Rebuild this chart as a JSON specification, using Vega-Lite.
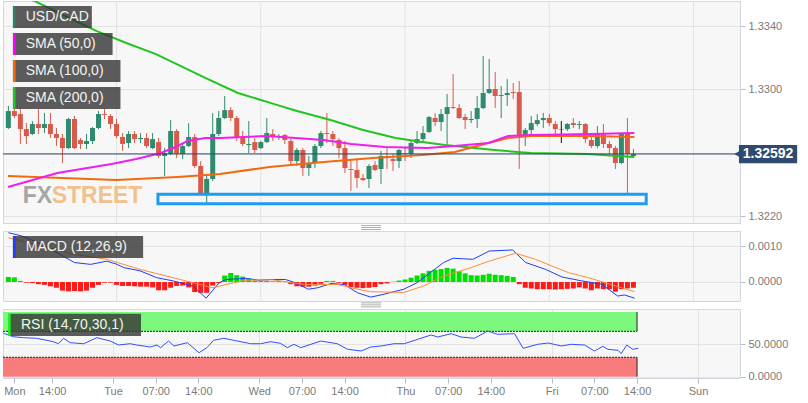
{
  "$schema": "https://vega.github.io/schema/vega-lite/v6.json",
  "padding": 0,
  "background": "white",
  "spacing": 8,
  "bounds": "flush",
  "config": {
    "font": "Liberation Sans",
    "view": {"stroke": "#d3d7e2", "fill": "#f7f7f7"},
    "axis": {"labelFont": "Liberation Sans", "labelFontSize": 11, "labelColor": "#7a7a7a", "tickColor": "#b8bcc8", "domainColor": "#d3d7e2", "gridColor": "#e3e3e3", "labelOverlap": false}
  },
  "datasets": {
    "days": [{"d":24},{"d":48},{"d":72},{"d":96},{"d":120}],
    "candles": [
      {"t":6,"o":1.32756,"h":1.32895,"l":1.32749,"c":1.32863},
      {"t":7,"o":1.32863,"h":1.32907,"l":1.32819,"c":1.32832},
      {"t":8,"o":1.32844,"h":1.32876,"l":1.32655,"c":1.32749},
      {"t":9,"o":1.32749,"h":1.32787,"l":1.32655,"c":1.32705},
      {"t":10,"o":1.32718,"h":1.32800,"l":1.32712,"c":1.32781},
      {"t":11,"o":1.32781,"h":1.32876,"l":1.32718,"c":1.32756},
      {"t":12,"o":1.32756,"h":1.32851,"l":1.32724,"c":1.32781},
      {"t":13,"o":1.32781,"h":1.32851,"l":1.32693,"c":1.32718},
      {"t":14,"o":1.32718,"h":1.32756,"l":1.32642,"c":1.32693},
      {"t":15,"o":1.32693,"h":1.32718,"l":1.32535,"c":1.32629},
      {"t":16,"o":1.32629,"h":1.32819,"l":1.32623,"c":1.32813},
      {"t":17,"o":1.32813,"h":1.32832,"l":1.32623,"c":1.32629},
      {"t":18,"o":1.32680,"h":1.32693,"l":1.32623,"c":1.32655},
      {"t":19,"o":1.32655,"h":1.32718,"l":1.32623,"c":1.32674},
      {"t":20,"o":1.32674,"h":1.32762,"l":1.32655,"c":1.32756},
      {"t":21,"o":1.32756,"h":1.32863,"l":1.32749,"c":1.32844},
      {"t":22,"o":1.32844,"h":1.32876,"l":1.32813,"c":1.32838},
      {"t":23,"o":1.32832,"h":1.32844,"l":1.32749,"c":1.32781},
      {"t":24,"o":1.32781,"h":1.32813,"l":1.32693,"c":1.32705},
      {"t":25,"o":1.32699,"h":1.32724,"l":1.32611,"c":1.32655},
      {"t":26,"o":1.32661,"h":1.32737,"l":1.32629,"c":1.32718},
      {"t":27,"o":1.32718,"h":1.32737,"l":1.32661,"c":1.32686},
      {"t":28,"o":1.32686,"h":1.32724,"l":1.32661,"c":1.32693},
      {"t":29,"o":1.32693,"h":1.32724,"l":1.32629,"c":1.32642},
      {"t":30,"o":1.32629,"h":1.32724,"l":1.32623,"c":1.32686},
      {"t":31,"o":1.32667,"h":1.32693,"l":1.32566,"c":1.32579},
      {"t":32,"o":1.32579,"h":1.32629,"l":1.32453,"c":1.32598},
      {"t":33,"o":1.32592,"h":1.32806,"l":1.32585,"c":1.32737},
      {"t":34,"o":1.32737,"h":1.32749,"l":1.32566,"c":1.32592},
      {"t":35,"o":1.32592,"h":1.32655,"l":1.32560,"c":1.32642},
      {"t":36,"o":1.32642,"h":1.32787,"l":1.32636,"c":1.32699},
      {"t":37,"o":1.32699,"h":1.32718,"l":1.32503,"c":1.32516},
      {"t":38,"o":1.32516,"h":1.32547,"l":1.32339,"c":1.32345},
      {"t":39,"o":1.32345,"h":1.32453,"l":1.32270,"c":1.32434},
      {"t":40,"o":1.32434,"h":1.32851,"l":1.32421,"c":1.32718},
      {"t":41,"o":1.32718,"h":1.32863,"l":1.32705,"c":1.32819},
      {"t":42,"o":1.32819,"h":1.32958,"l":1.32813,"c":1.32869},
      {"t":43,"o":1.32869,"h":1.32888,"l":1.32800,"c":1.32819},
      {"t":44,"o":1.32819,"h":1.32832,"l":1.32674,"c":1.32693},
      {"t":45,"o":1.32693,"h":1.32737,"l":1.32642,"c":1.32655},
      {"t":46,"o":1.32648,"h":1.32800,"l":1.32598,"c":1.32655},
      {"t":47,"o":1.32667,"h":1.32693,"l":1.32598,"c":1.32617},
      {"t":48,"o":1.32629,"h":1.32674,"l":1.32623,"c":1.32667},
      {"t":49,"o":1.32667,"h":1.32819,"l":1.32661,"c":1.32724},
      {"t":50,"o":1.32718,"h":1.32749,"l":1.32674,"c":1.32699},
      {"t":51,"o":1.32699,"h":1.32718,"l":1.32680,"c":1.32705},
      {"t":52,"o":1.32712,"h":1.32718,"l":1.32655,"c":1.32680},
      {"t":53,"o":1.32674,"h":1.32693,"l":1.32522,"c":1.32547},
      {"t":54,"o":1.32547,"h":1.32629,"l":1.32516,"c":1.32617},
      {"t":55,"o":1.32617,"h":1.32629,"l":1.32453,"c":1.32503},
      {"t":56,"o":1.32503,"h":1.32579,"l":1.32453,"c":1.32535},
      {"t":57,"o":1.32535,"h":1.32655,"l":1.32503,"c":1.32642},
      {"t":58,"o":1.32642,"h":1.32737,"l":1.32629,"c":1.32724},
      {"t":59,"o":1.32724,"h":1.32851,"l":1.32661,"c":1.32718},
      {"t":60,"o":1.32718,"h":1.32737,"l":1.32642,"c":1.32686},
      {"t":61,"o":1.32680,"h":1.32693,"l":1.32566,"c":1.32629},
      {"t":62,"o":1.32629,"h":1.32674,"l":1.32472,"c":1.32503},
      {"t":63,"o":1.32497,"h":1.32560,"l":1.32358,"c":1.32491},
      {"t":64,"o":1.32491,"h":1.32566,"l":1.32377,"c":1.32440},
      {"t":65,"o":1.32440,"h":1.32465,"l":1.32421,"c":1.32427},
      {"t":66,"o":1.32434,"h":1.32528,"l":1.32377,"c":1.32516},
      {"t":67,"o":1.32522,"h":1.32547,"l":1.32484,"c":1.32491},
      {"t":68,"o":1.32497,"h":1.32611,"l":1.32402,"c":1.32579},
      {"t":69,"o":1.32579,"h":1.32629,"l":1.32497,"c":1.32566},
      {"t":70,"o":1.32560,"h":1.32592,"l":1.32484,"c":1.32547},
      {"t":71,"o":1.32547,"h":1.32623,"l":1.32503,"c":1.32617},
      {"t":72,"o":1.32598,"h":1.32629,"l":1.32547,"c":1.32592},
      {"t":73,"o":1.32592,"h":1.32674,"l":1.32566,"c":1.32661},
      {"t":74,"o":1.32661,"h":1.32737,"l":1.32655,"c":1.32686},
      {"t":75,"o":1.32686,"h":1.32768,"l":1.32674,"c":1.32724},
      {"t":76,"o":1.32731,"h":1.32832,"l":1.32724,"c":1.32825},
      {"t":77,"o":1.32819,"h":1.32851,"l":1.32768,"c":1.32794},
      {"t":78,"o":1.32794,"h":1.32876,"l":1.32737,"c":1.32844},
      {"t":79,"o":1.32844,"h":1.32971,"l":1.32642,"c":1.32888},
      {"t":80,"o":1.32888,"h":1.33097,"l":1.32876,"c":1.32882},
      {"t":81,"o":1.32882,"h":1.32907,"l":1.32813,"c":1.32819},
      {"t":82,"o":1.32825,"h":1.32844,"l":1.32749,"c":1.32806},
      {"t":83,"o":1.32806,"h":1.32863,"l":1.32787,"c":1.32813},
      {"t":84,"o":1.32813,"h":1.32958,"l":1.32756,"c":1.32882},
      {"t":85,"o":1.32882,"h":1.33210,"l":1.32876,"c":1.32977},
      {"t":86,"o":1.32977,"h":1.33192,"l":1.32971,"c":1.33002},
      {"t":87,"o":1.33002,"h":1.33109,"l":1.32882,"c":1.32958},
      {"t":88,"o":1.32958,"h":1.33021,"l":1.32819,"c":1.32964},
      {"t":89,"o":1.32964,"h":1.33065,"l":1.32895,"c":1.32977},
      {"t":90,"o":1.32983,"h":1.33040,"l":1.32939,"c":1.32977},
      {"t":91,"o":1.32983,"h":1.33053,"l":1.32497,"c":1.32712},
      {"t":92,"o":1.32712,"h":1.32756,"l":1.32642,"c":1.32743},
      {"t":93,"o":1.32743,"h":1.32832,"l":1.32718,"c":1.32787},
      {"t":94,"o":1.32781,"h":1.32844,"l":1.32768,"c":1.32806},
      {"t":95,"o":1.32806,"h":1.32851,"l":1.32756,"c":1.32819},
      {"t":96,"o":1.32819,"h":1.32844,"l":1.32768,"c":1.32787},
      {"t":97,"o":1.32781,"h":1.32800,"l":1.32718,"c":1.32749},
      {"t":98,"o":1.32749,"h":1.32800,"l":1.32661,"c":1.32747},
      {"t":99,"o":1.32749,"h":1.32787,"l":1.32737,"c":1.32781},
      {"t":100,"o":1.32787,"h":1.32819,"l":1.32756,"c":1.32775},
      {"t":101,"o":1.32775,"h":1.32800,"l":1.32749,"c":1.32781},
      {"t":102,"o":1.32781,"h":1.32787,"l":1.32661,"c":1.32686},
      {"t":103,"o":1.32680,"h":1.32705,"l":1.32629,"c":1.32642},
      {"t":104,"o":1.32642,"h":1.32768,"l":1.32629,"c":1.32724},
      {"t":105,"o":1.32724,"h":1.32781,"l":1.32629,"c":1.32655},
      {"t":106,"o":1.32655,"h":1.32674,"l":1.32579,"c":1.32629},
      {"t":107,"o":1.32629,"h":1.32642,"l":1.32497,"c":1.32535},
      {"t":108,"o":1.32535,"h":1.32724,"l":1.32528,"c":1.32718},
      {"t":109,"o":1.32718,"h":1.32819,"l":1.32333,"c":1.32592},
      {"t":110,"o":1.32579,"h":1.32623,"l":1.32566,"c":1.32592}
    ],
    "sma": [
      {"s":"SMA200","t":5.94,"v":1.33615},{"s":"SMA200","t":10.37,"v":1.33558},{"s":"SMA200","t":15.79,"v":1.33457},{"s":"SMA200","t":20.71,"v":1.33368},{"s":"SMA200","t":25.63,"v":1.33293},{"s":"SMA200","t":30.56,"v":1.33223},{"s":"SMA200","t":38.76,"v":1.33072},{"s":"SMA200","t":44.18,"v":1.32977},{"s":"SMA200","t":50.25,"v":1.32907},{"s":"SMA200","t":54.03,"v":1.32863},{"s":"SMA200","t":59.61,"v":1.32806},{"s":"SMA200","t":65.02,"v":1.32743},{"s":"SMA200","t":70.44,"v":1.32693},{"s":"SMA200","t":74.87,"v":1.32667},{"s":"SMA200","t":78.65,"v":1.32648},{"s":"SMA200","t":86.85,"v":1.32617},{"s":"SMA200","t":92.93,"v":1.32598},{"s":"SMA200","t":102.28,"v":1.32592},{"s":"SMA200","t":110.16,"v":1.32573},
      {"s":"SMA100","t":5.94,"v":1.32453},{"s":"SMA100","t":14.97,"v":1.32440},{"s":"SMA100","t":23.99,"v":1.32427},{"s":"SMA100","t":34.17,"v":1.32446},{"s":"SMA100","t":41.23,"v":1.32465},{"s":"SMA100","t":49.43,"v":1.32510},{"s":"SMA100","t":58.46,"v":1.32541},{"s":"SMA100","t":66.67,"v":1.32566},{"s":"SMA100","t":74.87,"v":1.32585},{"s":"SMA100","t":80.29,"v":1.32604},{"s":"SMA100","t":85.87,"v":1.32661},{"s":"SMA100","t":89.15,"v":1.32693},{"s":"SMA100","t":92.92,"v":1.32705},{"s":"SMA100","t":103.10,"v":1.32705},{"s":"SMA100","t":110.16,"v":1.32699},
      {"s":"SMA50","t":5.94,"v":1.32383},{"s":"SMA50","t":14.15,"v":1.32472},{"s":"SMA50","t":23.17,"v":1.32528},{"s":"SMA50","t":27.28,"v":1.32560},{"s":"SMA50","t":31.38,"v":1.32598},{"s":"SMA50","t":33.84,"v":1.32636},{"s":"SMA50","t":35.81,"v":1.32674},{"s":"SMA50","t":38.76,"v":1.32693},{"s":"SMA50","t":41.23,"v":1.32693},{"s":"SMA50","t":49.10,"v":1.32705},{"s":"SMA50","t":58.46,"v":1.32680},{"s":"SMA50","t":63.05,"v":1.32655},{"s":"SMA50","t":68.64,"v":1.32636},{"s":"SMA50","t":75.69,"v":1.32629},{"s":"SMA50","t":80.29,"v":1.32642},{"s":"SMA50","t":85.87,"v":1.32661},{"s":"SMA50","t":89.15,"v":1.32705},{"s":"SMA50","t":92.92,"v":1.32712},{"s":"SMA50","t":103.10,"v":1.32718},{"s":"SMA50","t":110.16,"v":1.32724}
    ],
    "wm": [
      {"t":8.40,"p":1.32283,"txt":"FX"},
      {"t":13.2,"p":1.32283,"txt":"STREET"}
    ],
    "zone": [{"x1":30.89,"x2":112.13,"y1":1.32337,"y2":1.32278}],
    "mainLeg": [
      {"x1":6.76,"xb":7.2,"x2":19.89,"y1":1.33526,"y2":1.33387,"tx":8.89,"ty":1.33456,"label":"USD/CAD"},
      {"x1":6.76,"xb":7.2,"x2":23.34,"y1":1.33356,"y2":1.33217,"tx":8.89,"ty":1.33286,"label":"SMA (50,0)"},
      {"x1":6.76,"xb":7.2,"x2":24.65,"y1":1.33185,"y2":1.33046,"tx":8.89,"ty":1.33116,"label":"SMA (100,0)"},
      {"x1":6.76,"xb":7.2,"x2":24.65,"y1":1.33015,"y2":1.32876,"tx":8.89,"ty":1.32945,"label":"SMA (200,0)"}
    ],
    "price": [{"p":1.32592,"x1":127.56,"x2":137.24,"y1":1.32648,"y2":1.32533,"tx":132.4,"ta":127.3,"txt":"1.32592"}],
    "hist": [
      {"t":6,"h":0.00014},{"t":7,"h":0.00013},{"t":8,"h":0.00003},{"t":9,"h":-0.00002},{"t":10,"h":-0.00003},{"t":11,"h":-0.00006},{"t":12,"h":-0.00008},{"t":13,"h":-0.00012},{"t":14,"h":-0.00016},{"t":15,"h":-0.00024},
      {"t":16,"h":-0.00026},{"t":17,"h":-0.00025},{"t":18,"h":-0.00026},{"t":19,"h":-0.00024},{"t":20,"h":-0.00016},{"t":21,"h":-0.00008},{"t":22,"h":-0.00002},{"t":23,"h":-0.00002},{"t":24,"h":-0.00008},{"t":25,"h":-0.00011},
      {"t":26,"h":-0.00011},{"t":27,"h":-0.00012},{"t":28,"h":-0.00013},{"t":29,"h":-0.00013},{"t":30,"h":-0.00015},{"t":31,"h":-0.00023},{"t":32,"h":-0.00023},{"t":33,"h":-0.00016},{"t":34,"h":-0.00011},{"t":35,"h":-0.0001},
      {"t":36,"h":-0.00015},{"t":37,"h":-0.00028},{"t":38,"h":-0.0003},{"t":39,"h":-0.0003},{"t":40,"h":-0.0001},{"t":41,"h":-0.00003},{"t":42,"h":0.00018},{"t":43,"h":0.00025},{"t":44,"h":0.00019},{"t":45,"h":0.00015},
      {"t":46,"h":0.0001},{"t":47,"h":0.00004},{"t":48,"h":0.00003},{"t":49,"h":0.00003},{"t":50,"h":0.00002},{"t":51,"h":0.00003},{"t":52,"h":0.00002},{"t":53,"h":-0.00006},{"t":54,"h":-0.00012},{"t":55,"h":-0.00013},
      {"t":56,"h":-0.00013},{"t":57,"h":-0.0001},{"t":58,"h":-0.00005},{"t":59,"h":0.00003},{"t":60,"h":0.00003},{"t":61,"h":-0.00002},{"t":62,"h":-0.00008},{"t":63,"h":-0.00014},{"t":64,"h":-0.00016},{"t":65,"h":-0.00017},
      {"t":66,"h":-0.00016},{"t":67,"h":-0.00014},{"t":68,"h":-0.00006},{"t":69,"h":-0.00004},{"t":70,"h":0.00001},{"t":71,"h":0.00004},{"t":72,"h":0.00007},{"t":73,"h":0.00012},{"t":74,"h":0.00018},{"t":75,"h":0.00024},
      {"t":76,"h":0.00031},{"t":77,"h":0.00034},{"t":78,"h":0.00036},{"t":79,"h":0.00039},{"t":80,"h":0.00037},{"t":81,"h":0.0003},{"t":82,"h":0.00024},{"t":83,"h":0.00019},{"t":84,"h":0.00018},{"t":85,"h":0.0002},
      {"t":86,"h":0.00023},{"t":87,"h":0.0002},{"t":88,"h":0.00019},{"t":89,"h":0.00017},{"t":90,"h":0.00014},{"t":91,"h":-0.00006},{"t":92,"h":-0.00016},{"t":93,"h":-0.00018},{"t":94,"h":-0.0002},{"t":95,"h":-0.0002},
      {"t":96,"h":-0.0002},{"t":97,"h":-0.00021},{"t":98,"h":-0.0002},{"t":99,"h":-0.00019},{"t":100,"h":-0.00018},{"t":101,"h":-0.00015},{"t":102,"h":-0.00018},{"t":103,"h":-0.00023},{"t":104,"h":-0.00018},{"t":105,"h":-0.0002},
      {"t":106,"h":-0.0002},{"t":107,"h":-0.00027},{"t":108,"h":-0.0002},{"t":109,"h":-0.00018},{"t":110,"h":-0.00016}
    ],
    "macdLines": [
      {"k":"macd","t":6,"v":0.00137},{"k":"macd","t":8.2,"v":0.00128},{"k":"macd","t":11.5,"v":0.00105},{"k":"macd","t":17.0,"v":0.00054},{"k":"macd","t":19.7,"v":0.00049},{"k":"macd","t":22.4,"v":0.00058},{"k":"macd","t":24.1,"v":0.00049},{"k":"macd","t":25.2,"v":0.0004},{"k":"macd","t":27.9,"v":0.00031},{"k":"macd","t":30.7,"v":0.00012},{"k":"macd","t":33.4,"v":0.00003},{"k":"macd","t":36.7,"v":-0.00011},{"k":"macd","t":38.9,"v":-0.00045},{"k":"macd","t":41.1,"v":-0.00002},{"k":"macd","t":42.2,"v":0.00007},{"k":"macd","t":45.5,"v":0.0001},{"k":"macd","t":47.7,"v":0.00005},{"k":"macd","t":49.9,"v":0.00007},{"k":"macd","t":52.1,"v":0.00007},{"k":"macd","t":53.7,"v":-0.00002},{"k":"macd","t":55.9,"v":-0.0002},{"k":"macd","t":57.5,"v":-0.00016},{"k":"macd","t":59.7,"v":-0.00004},{"k":"macd","t":61.9,"v":-0.00007},{"k":"macd","t":64.1,"v":-0.0003},{"k":"macd","t":66.3,"v":-0.00042},{"k":"macd","t":68.5,"v":-0.00034},{"k":"macd","t":71.8,"v":-0.0002},{"k":"macd","t":74.0,"v":-0.00002},{"k":"macd","t":76.2,"v":0.00026},{"k":"macd","t":78.4,"v":0.00054},{"k":"macd","t":80.0,"v":0.00066},{"k":"macd","t":83.3,"v":0.00063},{"k":"macd","t":86.0,"v":0.00086},{"k":"macd","t":89.9,"v":0.00089},{"k":"macd","t":92.1,"v":0.00054},{"k":"macd","t":95.4,"v":0.00035},{"k":"macd","t":98.1,"v":0.00014},{"k":"macd","t":101.4,"v":0.00003},{"k":"macd","t":104.7,"v":-0.00006},{"k":"macd","t":107.4,"v":-0.00039},{"k":"macd","t":108.5,"v":-0.00036},{"k":"macd","t":110.2,"v":-0.00045},
      {"k":"signal","t":6,"v":0.00123},{"k":"signal","t":11.5,"v":0.001},{"k":"signal","t":17,"v":0.00077},{"k":"signal","t":22.4,"v":0.00063},{"k":"signal","t":27.9,"v":0.00035},{"k":"signal","t":33.4,"v":0.00012},{"k":"signal","t":36.7,"v":-0.00002},{"k":"signal","t":40,"v":-0.00016},{"k":"signal","t":42.2,"v":-0.00007},{"k":"signal","t":45.5,"v":0.00005},{"k":"signal","t":49.9,"v":0.00006},{"k":"signal","t":55.3,"v":-0.00007},{"k":"signal","t":60.8,"v":-0.00007},{"k":"signal","t":64.1,"v":-0.0002},{"k":"signal","t":66.3,"v":-0.00027},{"k":"signal","t":71.8,"v":-0.00029},{"k":"signal","t":75.1,"v":-0.00011},{"k":"signal","t":78.4,"v":0.00016},{"k":"signal","t":82.8,"v":0.00039},{"k":"signal","t":86.0,"v":0.00058},{"k":"signal","t":90.4,"v":0.0008},{"k":"signal","t":93.7,"v":0.00063},{"k":"signal","t":96.5,"v":0.00044},{"k":"signal","t":99.2,"v":0.00026},{"k":"signal","t":102.5,"v":0.00012},{"k":"signal","t":104.7,"v":0.00001},{"k":"signal","t":107.4,"v":-0.00013},{"k":"signal","t":110.2,"v":-0.00027}
    ],
    "macdLeg": [{"x1":6.76,"xb":7.2,"x2":28.42,"y1":0.001278,"y2":0.000667,"tx":8.89,"ty":0.000972,"label":"MACD (12,26,9)"}],
    "grip1": [{"x1":64.7,"x2":68.0,"y":0.001569},{"x1":64.7,"x2":68.0,"y":0.001514},{"x1":64.7,"x2":68.0,"y":0.001458}],
    "rsi": [
      {"t":6,"r":67},{"t":7.64,"r":61.7},{"t":9.29,"r":60.2},{"t":11.48,"r":59.3},{"t":14.22,"r":54.0},{"t":15.05,"r":50.9},{"t":15.87,"r":59.3},{"t":16.96,"r":52.5},{"t":19.16,"r":50.9},{"t":21.35,"r":60.2},{"t":23.54,"r":55.1},{"t":24.9,"r":48.9},{"t":26.8,"r":50.9},{"t":27.9,"r":48.9},{"t":30.1,"r":45.8},{"t":31.2,"r":48.9},{"t":31.8,"r":44.8},{"t":33.1,"r":55.1},{"t":34.0,"r":47.4},{"t":36.2,"r":52.5},{"t":38.1,"r":37.0},{"t":39.4,"r":44.8},{"t":40.5,"r":56.2},{"t":42.2,"r":59.3},{"t":44.4,"r":55.1},{"t":46.6,"r":50.9},{"t":48.2,"r":50.9},{"t":49.9,"r":54.0},{"t":51.5,"r":51.5},{"t":52.6,"r":44.8},{"t":53.7,"r":50},{"t":54.8,"r":44.8},{"t":58.1,"r":55.1},{"t":60.8,"r":50.9},{"t":62.5,"r":42.3},{"t":64.7,"r":39.7},{"t":66.3,"r":45.8},{"t":68.0,"r":47.4},{"t":70.1,"r":50.9},{"t":71.8,"r":50.9},{"t":74.0,"r":57.7},{"t":76.2,"r":64.4},{"t":77.3,"r":61.3},{"t":79.5,"r":66.4},{"t":81.1,"r":61.3},{"t":83.3,"r":59.3},{"t":85.5,"r":70.5},{"t":87.1,"r":65.4},{"t":89.9,"r":66.4},{"t":91.3,"r":43.8},{"t":93.7,"r":50},{"t":95.4,"r":52},{"t":97.6,"r":47.4},{"t":99.2,"r":50},{"t":101.4,"r":48.9},{"t":103.0,"r":39.7},{"t":104.4,"r":46.9},{"t":105.2,"r":42.3},{"t":106.9,"r":40.7},{"t":107.4,"r":35.6},{"t":108.3,"r":48.9},{"t":109.3,"r":42.3},{"t":110.2,"r":43.8}
    ],
    "bands": [
      {"k":"ob","x1":5.94,"x2":110,"y1":70,"y2":100,"edge":70},
      {"k":"os","x1":5.94,"x2":110,"y1":0,"y2":30,"edge":30}
    ],
    "rsiLeg": [{"x1":6.76,"xb":7.2,"x2":28.59,"y1":97.2,"y2":62.8,"tx":8.89,"ty":80.1,"label":"RSI (14,70,30,1)"}],
    "grip2": [{"x1":64.7,"x2":68.0,"y":114.0},{"x1":64.7,"x2":68.0,"y":110.9},{"x1":64.7,"x2":68.0,"y":107.8}]
  },
  "vconcat": [
    {
      "width": 737,
      "height": 222,
      "resolve": {"scale": {"color": "independent"}},
      "layer": [
        {
          "data": {"name": "days"},
          "mark": {"type": "rule", "color": "#e3e3e3", "strokeWidth": 1},
          "encoding": {
            "x": {"field": "d", "type": "quantitative", "title": null, "scale": {"domain": [5.94, 126.9], "nice": false, "zero": false}, "axis": null}
          }
        },
        {
          "data": {"name": "wm"},
          "mark": {"type": "text", "align": "left", "baseline": "alphabetic", "font": "Liberation Sans", "fontWeight": "bold", "fontSize": 23},
          "encoding": {
            "x": {"field": "t", "type": "quantitative", "title": null},
            "y": {"field": "p", "type": "quantitative", "title": null, "scale": {"domain": [1.32156, 1.33558], "nice": false, "zero": false},
                  "axis": {"orient": "right", "values": [1.322, 1.324, 1.326, 1.328, 1.33, 1.332, 1.334], "labelExpr": "abs(datum.value-1.326)<0.00001 ? '' : format(datum.value,'.4f')", "tickSize": 5, "labelPadding": 3, "grid": true, "title": null}},
            "text": {"field": "txt"},
            "color": {"field": "txt", "type": "nominal", "scale": {"domain": ["FX", "STREET"], "range": ["#a5a5a5", "#f2c08c"]}, "legend": null}
          }
        },
        {
          "data": {"name": "candles"},
          "mark": {"type": "rule", "strokeWidth": 1},
          "encoding": {
            "x": {"field": "t", "type": "quantitative", "title": null},
            "y": {"field": "l", "type": "quantitative", "title": null},
            "y2": {"field": "h"},
            "color": {"condition": [{"test": "abs(datum.c - datum.o) < 0.00004", "value": "#111111"}, {"test": "datum.c > datum.o", "value": "#2f8b6e"}], "value": "#d85a4a"}
          }
        },
        {
          "data": {"name": "candles"},
          "mark": {"type": "bar", "size": 5},
          "encoding": {
            "x": {"field": "t", "type": "quantitative", "title": null},
            "y": {"field": "o", "type": "quantitative", "title": null},
            "y2": {"field": "c"},
            "color": {"condition": [{"test": "abs(datum.c - datum.o) < 0.00004", "value": "#111111"}, {"test": "datum.c > datum.o", "value": "#2f8b6e"}], "value": "#d85a4a"}
          }
        },
        {
          "data": {"name": "sma"},
          "mark": {"type": "line", "strokeWidth": 2, "clip": true},
          "encoding": {
            "x": {"field": "t", "type": "quantitative", "title": null},
            "y": {"field": "v", "type": "quantitative", "title": null},
            "color": {"field": "s", "type": "nominal", "scale": {"domain": ["SMA50", "SMA100", "SMA200"], "range": ["#f01ef0", "#f06a10", "#22c422"]}, "legend": null}
          }
        },
        {
          "data": {"name": "price"},
          "mark": {"type": "rule", "color": "#2c4468", "strokeWidth": 1},
          "encoding": {"y": {"field": "p", "type": "quantitative", "title": null}}
        },
        {
          "data": {"name": "zone"},
          "mark": {"type": "rect", "fill": null, "fillOpacity": 0, "stroke": "#1e9cf0", "strokeWidth": 3},
          "encoding": {
            "x": {"field": "x1", "type": "quantitative", "title": null},
            "x2": {"field": "x2"},
            "y": {"field": "y1", "type": "quantitative", "title": null},
            "y2": {"field": "y2"}
          }
        },
        {
          "data": {"name": "mainLeg"},
          "mark": {"type": "rect", "color": "#333333", "opacity": 0.8},
          "encoding": {
            "x": {"field": "x1", "type": "quantitative", "title": null},
            "x2": {"field": "x2"},
            "y": {"field": "y1", "type": "quantitative", "title": null},
            "y2": {"field": "y2"}
          }
        },
        {
          "data": {"name": "mainLeg"},
          "mark": {"type": "rect"},
          "encoding": {
            "x": {"field": "x1", "type": "quantitative", "title": null},
            "x2": {"field": "xb"},
            "y": {"field": "y1", "type": "quantitative", "title": null},
            "y2": {"field": "y2"},
            "color": {"field": "label", "type": "nominal", "scale": {"domain": ["USD/CAD", "SMA (50,0)", "SMA (100,0)", "SMA (200,0)"], "range": ["#2e7d6f", "#ff00ff", "#f06a10", "#22c422"]}, "legend": null}
          }
        },
        {
          "data": {"name": "mainLeg"},
          "mark": {"type": "text", "align": "left", "baseline": "middle", "fontSize": 14, "color": "#f4f4f4"},
          "encoding": {
            "x": {"field": "tx", "type": "quantitative", "title": null},
            "y": {"field": "ty", "type": "quantitative", "title": null},
            "text": {"field": "label"}
          }
        },
        {
          "data": {"name": "price"},
          "mark": {"type": "rect", "color": "#2e4a6e"},
          "encoding": {
            "x": {"field": "x1", "type": "quantitative", "title": null},
            "x2": {"field": "x2"},
            "y": {"field": "y1", "type": "quantitative", "title": null},
            "y2": {"field": "y2"}
          }
        },
        {
          "data": {"name": "price"},
          "mark": {"type": "point", "shape": "triangle-left", "filled": true, "size": 50, "color": "#2e4a6e", "opacity": 1},
          "encoding": {
            "x": {"field": "ta", "type": "quantitative", "title": null},
            "y": {"field": "p", "type": "quantitative", "title": null}
          }
        },
        {
          "data": {"name": "price"},
          "mark": {"type": "text", "align": "center", "baseline": "middle", "fontSize": 14, "fontWeight": "bold", "color": "#ffffff"},
          "encoding": {
            "x": {"field": "tx", "type": "quantitative", "title": null},
            "y": {"field": "p", "type": "quantitative", "title": null},
            "text": {"field": "txt"}
          }
        }
      ]
    },
    {
      "width": 737,
      "height": 70,
      "resolve": {"scale": {"color": "independent"}},
      "layer": [
        {
          "data": {"name": "days"},
          "mark": {"type": "rule", "color": "#e3e3e3", "strokeWidth": 1},
          "encoding": {
            "x": {"field": "d", "type": "quantitative", "title": null, "scale": {"domain": [5.94, 126.9], "nice": false, "zero": false}, "axis": null}
          }
        },
        {
          "data": {"name": "hist"},
          "mark": {"type": "bar", "size": 5},
          "encoding": {
            "x": {"field": "t", "type": "quantitative", "title": null},
            "y": {"field": "h", "type": "quantitative", "title": null, "scale": {"domain": [-0.000528, 0.001417], "nice": false, "zero": false},
                  "axis": {"orient": "right", "values": [0, 0.001], "format": ".4f", "tickSize": 5, "labelPadding": 3, "grid": true, "title": null}},
            "y2": {"datum": 0},
            "color": {"condition": {"test": "datum.h > 0", "value": "#00e000"}, "value": "#ff1a1a"}
          }
        },
        {
          "data": {"name": "macdLines"},
          "mark": {"type": "line", "strokeWidth": 1},
          "encoding": {
            "x": {"field": "t", "type": "quantitative", "title": null},
            "y": {"field": "v", "type": "quantitative", "title": null},
            "color": {"field": "k", "type": "nominal", "scale": {"domain": ["macd", "signal"], "range": ["#1f3cff", "#ff8c3a"]}, "legend": null}
          }
        },
        {
          "data": {"name": "macdLeg"},
          "mark": {"type": "rect", "color": "#333333", "opacity": 0.8},
          "encoding": {
            "x": {"field": "x1", "type": "quantitative", "title": null},
            "x2": {"field": "x2"},
            "y": {"field": "y1", "type": "quantitative", "title": null},
            "y2": {"field": "y2"}
          }
        },
        {
          "data": {"name": "macdLeg"},
          "mark": {"type": "rect", "color": "#1f3cff"},
          "encoding": {
            "x": {"field": "x1", "type": "quantitative", "title": null},
            "x2": {"field": "xb"},
            "y": {"field": "y1", "type": "quantitative", "title": null},
            "y2": {"field": "y2"}
          }
        },
        {
          "data": {"name": "macdLeg"},
          "mark": {"type": "text", "align": "left", "baseline": "middle", "fontSize": 14, "color": "#f4f4f4"},
          "encoding": {
            "x": {"field": "tx", "type": "quantitative", "title": null},
            "y": {"field": "ty", "type": "quantitative", "title": null},
            "text": {"field": "label"}
          }
        },
        {
          "data": {"name": "grip1"},
          "mark": {"type": "rule", "color": "#9a9a9a", "strokeWidth": 0.8},
          "encoding": {
            "x": {"field": "x1", "type": "quantitative", "title": null},
            "x2": {"field": "x2"},
            "y": {"field": "y", "type": "quantitative", "title": null}
          }
        }
      ]
    },
    {
      "width": 737,
      "height": 69,
      "resolve": {"scale": {"color": "independent"}},
      "layer": [
        {
          "data": {"name": "bands"},
          "mark": {"type": "rect"},
          "encoding": {
            "x": {"field": "x1", "type": "quantitative", "title": null, "scale": {"domain": [5.94, 126.9], "nice": false, "zero": false},
                  "axis": {"values": [7.8, 14, 24, 31, 38, 48, 55, 62, 72, 79, 86, 96, 103, 110, 120],
                           "labelExpr": "datum.value < 10 ? 'Mon' : (datum.value % 24 == 0 ? ['Mon','Tue','Wed','Thu','Fri','Sun'][datum.value/24] : (datum.value % 24 == 14 ? '14:00' : '07:00'))",
                           "tickSize": 5, "labelPadding": 2, "domain": false, "grid": true,
                           "gridOpacity": {"condition": {"test": "datum.value % 24 == 0", "value": 1}, "value": 0},
                           "title": null}},
            "x2": {"field": "x2"},
            "y": {"field": "y1", "type": "quantitative", "title": null, "scale": {"domain": [-2, 104.5], "nice": false, "zero": false},
                  "axis": {"orient": "right", "values": [0, 50], "format": ".4f", "tickSize": 5, "labelPadding": 3, "grid": true, "title": null}},
            "y2": {"field": "y2"},
            "color": {"field": "k", "type": "nominal", "scale": {"domain": ["ob", "os"], "range": ["#7cf87c", "#f87c7c"]}, "legend": null}
          }
        },
        {
          "data": {"name": "bands"},
          "mark": {"type": "rule", "color": "#222222", "strokeWidth": 1, "strokeDash": [2, 1]},
          "encoding": {
            "x": {"field": "x1", "type": "quantitative", "title": null},
            "x2": {"field": "x2"},
            "y": {"field": "edge", "type": "quantitative", "title": null}
          }
        },
        {
          "data": {"name": "bands"},
          "mark": {"type": "rule", "color": "#222222", "strokeWidth": 1},
          "encoding": {
            "x": {"field": "x2", "type": "quantitative", "title": null},
            "y": {"field": "y1", "type": "quantitative", "title": null},
            "y2": {"field": "y2"}
          }
        },
        {
          "data": {"name": "rsi"},
          "mark": {"type": "line", "strokeWidth": 1, "color": "#3050ff"},
          "encoding": {
            "x": {"field": "t", "type": "quantitative", "title": null},
            "y": {"field": "r", "type": "quantitative", "title": null}
          }
        },
        {
          "data": {"name": "rsiLeg"},
          "mark": {"type": "rect", "color": "#333333", "opacity": 0.8},
          "encoding": {
            "x": {"field": "x1", "type": "quantitative", "title": null},
            "x2": {"field": "x2"},
            "y": {"field": "y1", "type": "quantitative", "title": null},
            "y2": {"field": "y2"}
          }
        },
        {
          "data": {"name": "rsiLeg"},
          "mark": {"type": "rect", "color": "#22ee22"},
          "encoding": {
            "x": {"field": "x1", "type": "quantitative", "title": null},
            "x2": {"field": "xb"},
            "y": {"field": "y1", "type": "quantitative", "title": null},
            "y2": {"field": "y2"}
          }
        },
        {
          "data": {"name": "rsiLeg"},
          "mark": {"type": "text", "align": "left", "baseline": "middle", "fontSize": 14, "color": "#f4f4f4"},
          "encoding": {
            "x": {"field": "tx", "type": "quantitative", "title": null},
            "y": {"field": "ty", "type": "quantitative", "title": null},
            "text": {"field": "label"}
          }
        },
        {
          "data": {"name": "grip2"},
          "mark": {"type": "rule", "color": "#9a9a9a", "strokeWidth": 0.8},
          "encoding": {
            "x": {"field": "x1", "type": "quantitative", "title": null},
            "x2": {"field": "x2"},
            "y": {"field": "y", "type": "quantitative", "title": null}
          }
        }
      ]
    }
  ]
}
